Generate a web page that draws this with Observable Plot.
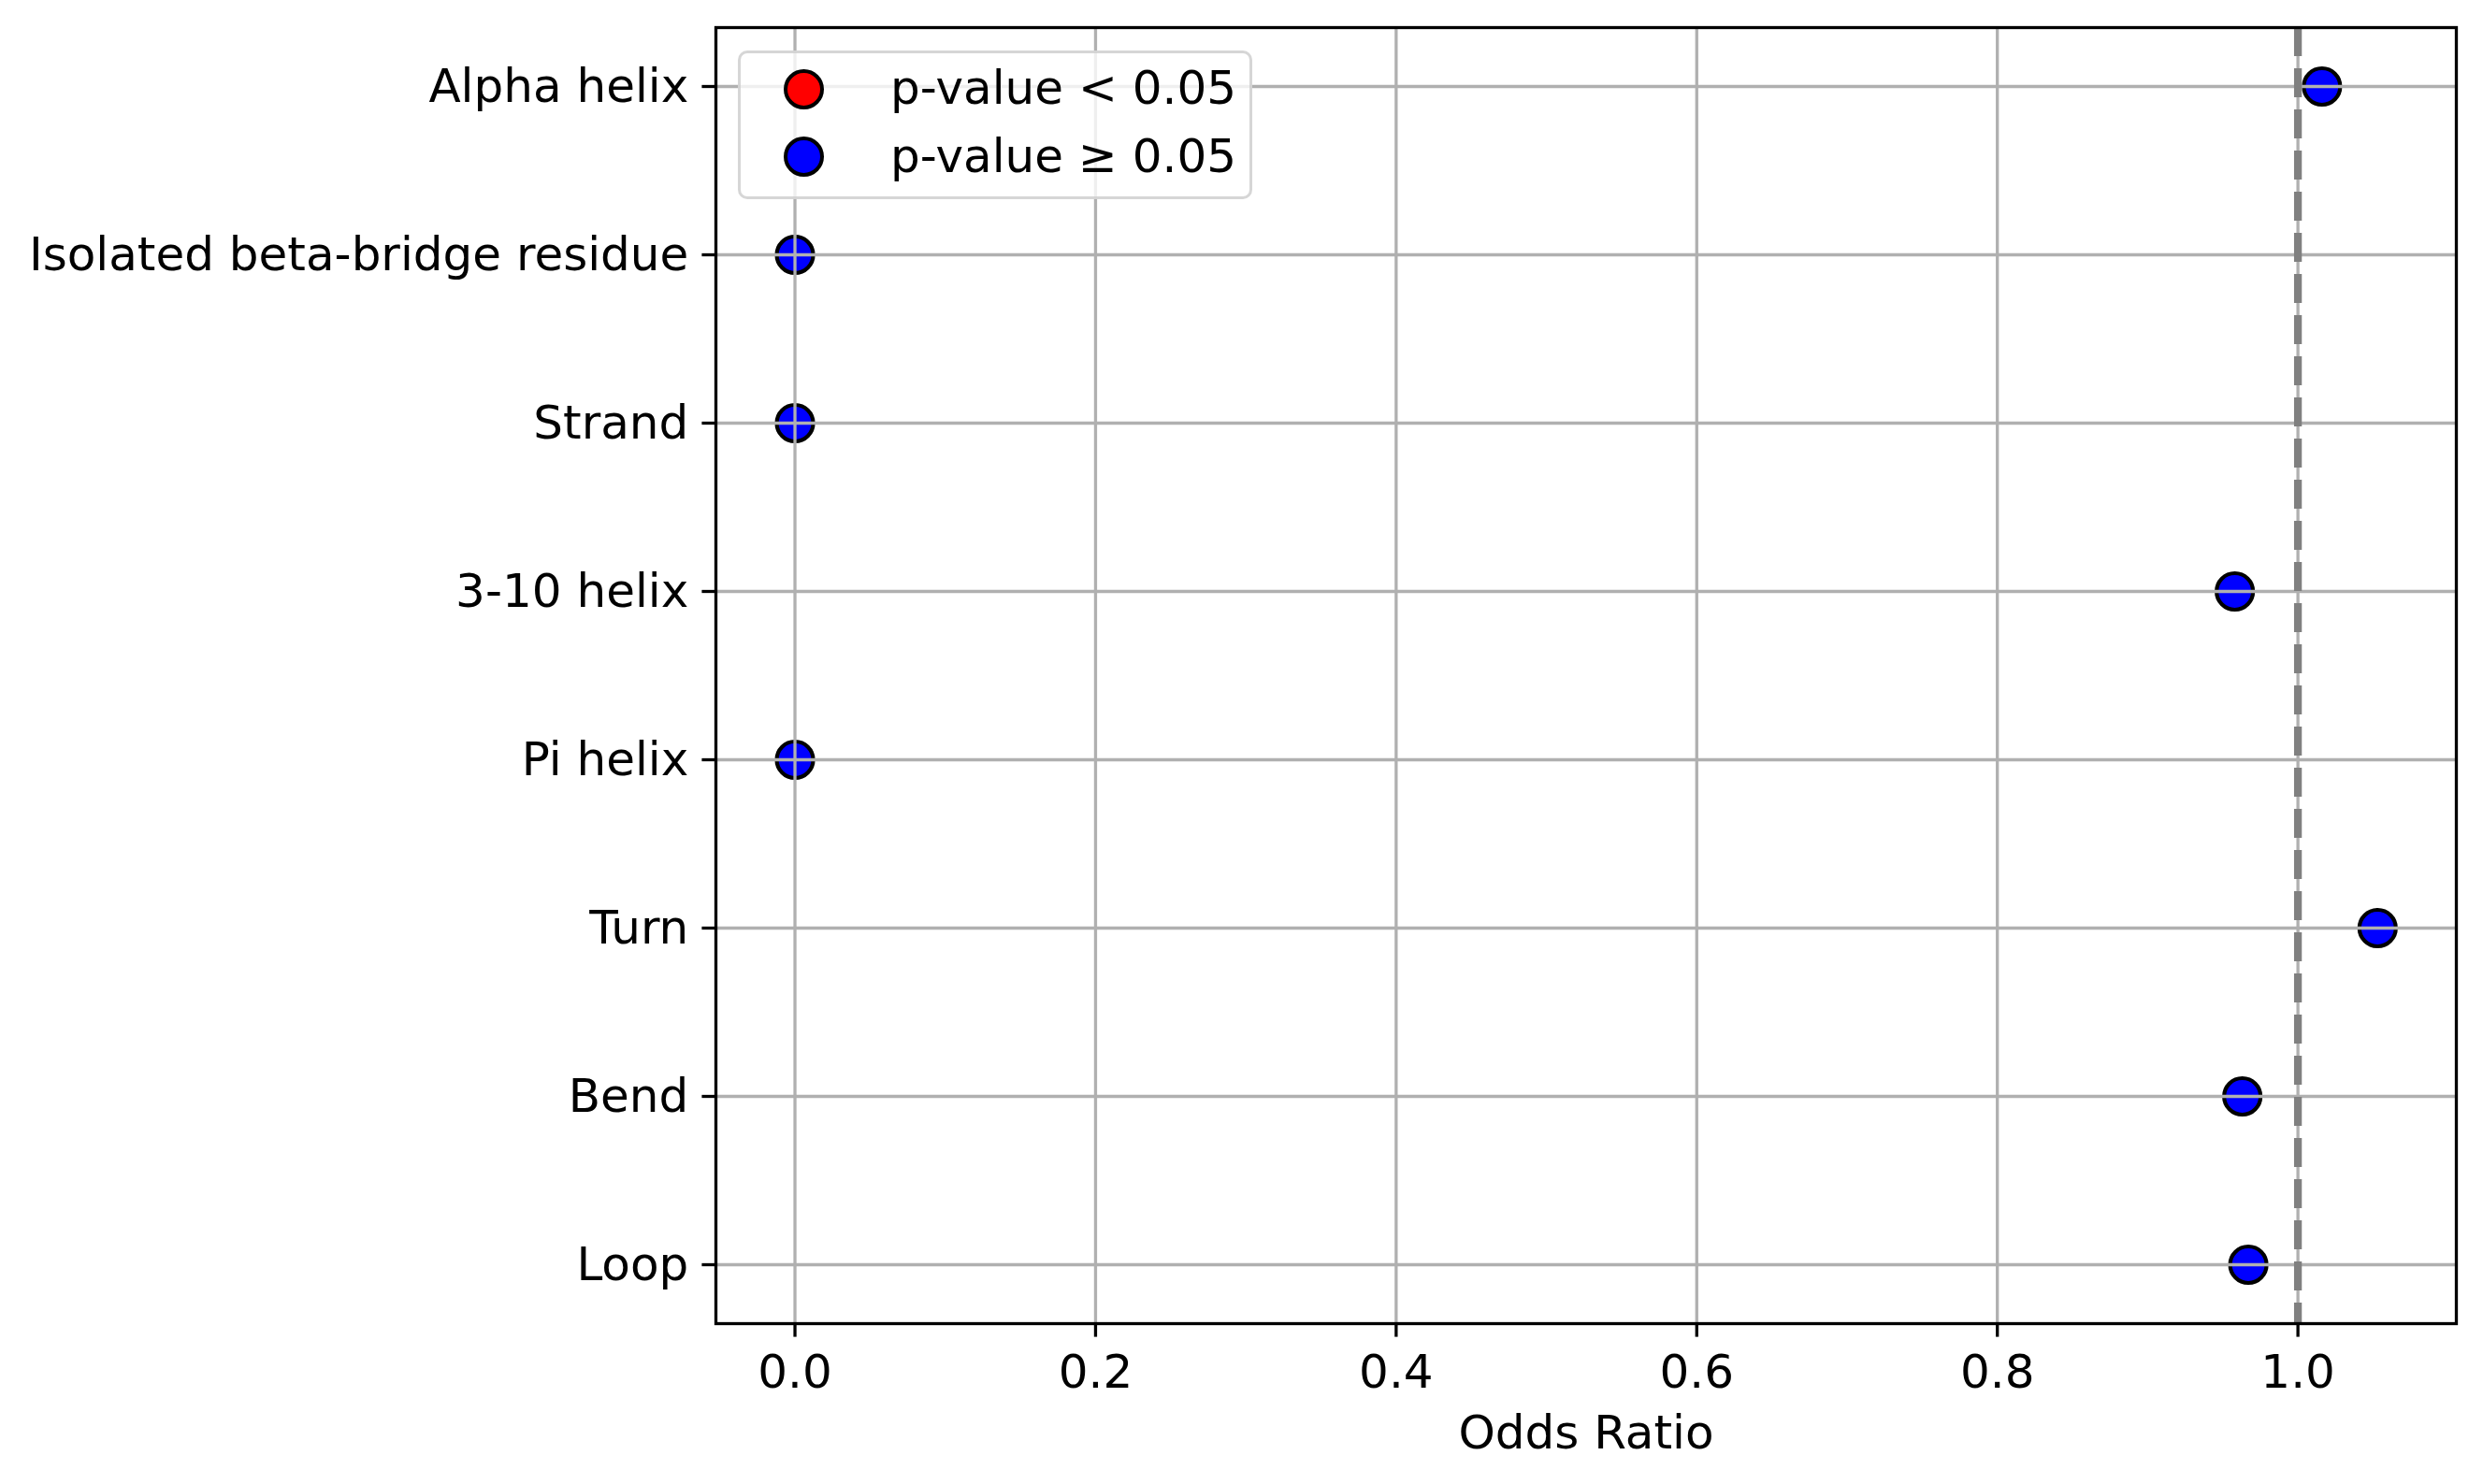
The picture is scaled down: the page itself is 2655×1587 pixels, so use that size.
<!DOCTYPE html>
<html>
<head>
<meta charset="utf-8">
<script src="https://cdn.jsdelivr.net/npm/d3@7"></script>
<script src="https://cdn.jsdelivr.net/npm/@observablehq/plot@0.6"></script>
<style>
  body { margin: 0; background: #fff; }
  #wrap { position: relative; width: 2655px; height: 1587px; font-family: "DejaVu Sans", sans-serif; color: #000; }
  #legend { position: absolute; left: 789px; top: 54px; width: 544px; height: 153px;
            border: 3.5px solid rgba(204,204,204,0.8); border-radius: 10px;
            background: rgba(255,255,255,0.8); box-sizing: content-box; }
  .mk { position: absolute; width: 35px; height: 35px; border-radius: 50%; border: 4.2px solid #000; }
  .lt { position: absolute; height: 50px; line-height: 50px; font-size: 50px; white-space: nowrap; }
</style>
</head>
<body>
<div id="wrap"></div>
<script>
const categories = ["Alpha helix", "Isolated beta-bridge residue", "Strand", "3-10 helix", "Pi helix", "Turn", "Bend", "Loop"];
const oddsRatios = [1.016, 0, 0, 0.958, 0, 1.053, 0.963, 0.967];
const significant = [false, false, false, false, false, false, false, false];
const xTicks = [0, 0.2, 0.4, 0.6, 0.8, 1.0];
const xDomain = [-0.0526, 1.1054];
const referenceLine = [1];
const legendLabels = ["p-value < 0.05", "p-value \u2265 0.05"];
const legendColors = ["red", "blue"];
const legendKeys = [true, false];

const data = categories.map((c, i) => ({category: c, or: oddsRatios[i], sig: significant[i]}));

const chart = Plot.plot({
  width: 2655,
  height: 1587,
  marginLeft: 765,
  marginRight: 29,
  marginTop: 29,
  marginBottom: 172,
  style: {fontFamily: "DejaVu Sans", fontSize: "50px", color: "#000", background: "transparent"},
  x: {domain: xDomain, ticks: xTicks, tickFormat: d3.format(".1f")},
  y: {type: "point", domain: categories, padding: 0.35},
  color: {domain: legendKeys, range: legendColors},
  marks: [
    Plot.dot(data, {x: "or", y: "category", r: 19.5, fill: "sig", stroke: "black", strokeWidth: 4.2}),
    Plot.gridX(xTicks, {stroke: "#b0b0b0", strokeOpacity: 1, strokeWidth: 3.3}),
    Plot.gridY(categories, {stroke: "#b0b0b0", strokeOpacity: 1, strokeWidth: 3.3}),
    Plot.ruleX(referenceLine, {stroke: "#808080", strokeWidth: 8.3, strokeDasharray: "31,13"}),
    Plot.axisX(xTicks, {tickSize: 14.6, tickPadding: 18, strokeWidth: 3.3, fontSize: 50,
      tickFormat: d3.format(".1f"), label: "Odds Ratio", labelAnchor: "center", labelArrow: "none", labelOffset: 133}),
    Plot.axisY(categories, {tickSize: 14.6, tickFormat: () => "", strokeWidth: 3.3, label: null}),
    Plot.axisY(categories, {tickSize: 0, tickPadding: 29.2, fontSize: 50, label: null}),
    Plot.frame({stroke: "black", strokeWidth: 3.3})
  ]
});

const wrap = document.getElementById("wrap");
wrap.appendChild(chart);

const legend = document.createElement("div");
legend.id = "legend";
const markerTops = [16.7, 89];
legendLabels.forEach((lab, i) => {
  const mk = document.createElement("div");
  mk.className = "mk";
  mk.style.left = "46px";
  mk.style.top = markerTops[i] + "px";
  mk.style.background = legendColors[i];
  legend.appendChild(mk);
  const t = document.createElement("div");
  t.className = "lt";
  t.style.left = "160px";
  t.style.top = (markerTops[i] + 21.5 - 26) + "px";
  t.textContent = lab;
  legend.appendChild(t);
});
wrap.appendChild(legend);
</script>
</body>
</html>
